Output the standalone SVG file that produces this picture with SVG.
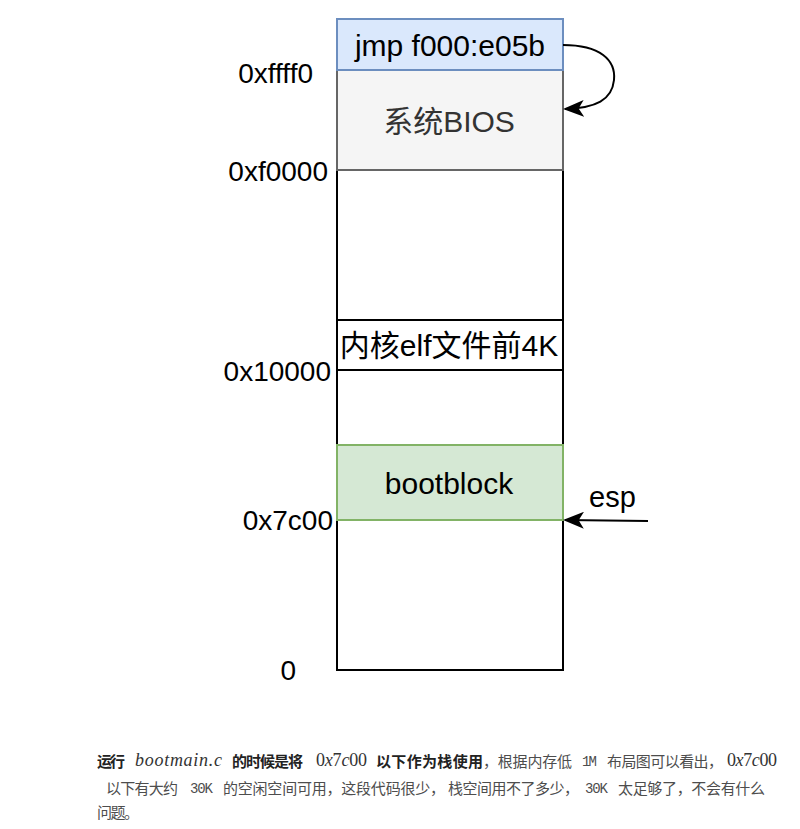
<svg xmlns="http://www.w3.org/2000/svg" width="800" height="829" viewBox="0 0 800 829">
<style>
.box{stroke:#000;stroke-width:2;fill:#fff}
.lbl{font-family:"Liberation Sans","Noto Sans CJK SC",sans-serif;font-size:30px;fill:#000}
.addr{font-family:"Liberation Sans",sans-serif;font-size:28px;fill:#000;text-anchor:end}
.t{font-family:"Noto Sans CJK SC",sans-serif;font-size:15px;fill:#4d4d4d}
.b{font-family:"Noto Sans CJK SC",sans-serif;font-size:15px;font-weight:bold;fill:#222}
.m{font-family:"Liberation Serif",serif;font-size:18px;fill:#333}
.mi{font-style:italic}
.mono{font-family:"Liberation Mono",monospace;font-size:14px;fill:#4d4d4d}
.conn{fill:none;stroke:#000;stroke-width:2}
</style>
<defs>
<marker id="arr" viewBox="0 0 20 16" refX="18" refY="8" markerWidth="21" markerHeight="17" markerUnits="userSpaceOnUse" orient="auto">
<path d="M0,0 L20,8 L0,16 L5,8 Z" fill="#000"/>
</marker>
</defs>
<g id="free-top"><rect class="box" x="337" y="170" width="226" height="150"/></g>
<g id="kernel"><rect class="box" x="337" y="320" width="226" height="50"/><text class="lbl" x="449" y="356" text-anchor="middle">内核elf文件前4K</text></g>
<g id="free-mid"><rect class="box" x="337" y="370" width="226" height="75"/></g>
<g id="free-bottom"><rect class="box" x="337" y="520" width="226" height="150"/></g>
<g id="bios"><rect x="337" y="70" width="226" height="100" fill="#f5f5f5" stroke="#666666" stroke-width="2"/><text class="lbl" x="449" y="132" text-anchor="middle" style="fill:#333">系统BIOS</text></g>
<g id="jmp"><rect x="337" y="19" width="226" height="51" fill="#dae8fc" stroke="#6c8ebf" stroke-width="2"/><text class="lbl" x="450" y="56" text-anchor="middle">jmp f000:e05b</text></g>
<g id="bootblock"><rect x="337" y="445" width="226" height="75" fill="#d5e8d4" stroke="#82b366" stroke-width="2"/><text class="lbl" x="449" y="494" text-anchor="middle">bootblock</text></g>
<g id="addresses">
<text class="addr" x="313" y="83">0xffff0</text>
<text class="addr" x="328" y="181">0xf0000</text>
<text class="addr" x="331" y="381">0x10000</text>
<text class="addr" x="333" y="530">0x7c00</text>
<text class="addr" x="296" y="680">0</text>
</g>
<g id="esp-label"><text class="lbl" x="589" y="507" style="font-size:29px">esp</text></g>
<g id="connectors">
<path class="conn" d="M563 45 C600 45 616 60 614 80 C612 100 596 108 565 109" marker-end="url(#arr)"/>
<path class="conn" d="M648 521 L565 520" marker-end="url(#arr)"/>
</g>
<g id="caption">
<text class="b" x="97" y="767" textLength="28">运行</text>
<text class="m mi" x="135" y="766" textLength="87">bootmain.c</text>
<text class="b" x="232" y="767" textLength="71">的时候是将</text>
<text class="m" x="316" y="766" textLength="51">0<tspan class="mi">x</tspan>7<tspan class="mi">c</tspan>00</text>
<text class="b" x="376" y="767" textLength="107">以下作为栈使用</text>
<text class="t" x="483" y="767" textLength="89">，根据内存低</text>
<text class="mono" x="582" y="766" textLength="15">1M</text>
<text class="t" x="607" y="767" textLength="116">布局图可以看出，</text>
<text class="m" x="727" y="766" textLength="50">0<tspan class="mi">x</tspan>7<tspan class="mi">c</tspan>00</text>
<text class="t" x="106" y="794" textLength="72">以下有大约</text>
<text class="mono" x="190" y="793" textLength="23">30K</text>
<text class="t" x="223" y="794" textLength="222">的空闲空间可用，这段代码很少，</text>
<text class="t" x="448" y="794" textLength="131">栈空间用不了多少，</text>
<text class="mono" x="585" y="793" textLength="23">30K</text>
<text class="t" x="618" y="794" textLength="147">太足够了，不会有什么</text>
<text class="t" x="97" y="818" textLength="42">问题。</text>
</g>
</svg>
